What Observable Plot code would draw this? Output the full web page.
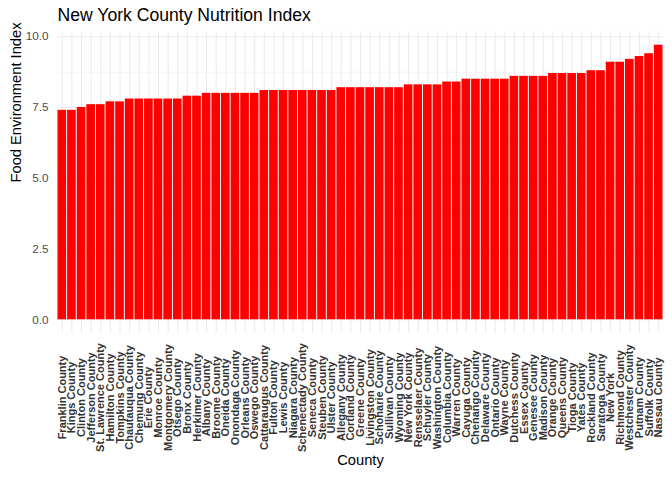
<!DOCTYPE html>
<html>
<head>
<meta charset="utf-8">
<script src="https://cdn.jsdelivr.net/npm/d3@7"></script>
<script src="https://cdn.jsdelivr.net/npm/@observablehq/plot@0.6"></script>
<style>
  html, body { margin: 0; padding: 0; background: #fff; }
  #chart svg { display: block; }
</style>
</head>
<body>
<div id="chart"></div>
<script>
const counties = [
  "Franklin County", "Kings County", "Clinton County", "Jefferson County", "St. Lawrence County",
  "Hamilton County", "Tompkins County", "Chautauqua County", "Chemung County", "Erie County",
  "Monroe County", "Montgomery County", "Otsego County", "Bronx County", "Herkimer County",
  "Albany County", "Broome County", "Oneida County", "Onondaga County", "Orleans County",
  "Oswego County", "Cattaraugus County", "Fulton County", "Lewis County", "Niagara County",
  "Schenectady County", "Seneca County", "Steuben County", "Ulster County", "Allegany County",
  "Cortland County", "Greene County", "Livingston County", "Schoharie County", "Sullivan County",
  "Wyoming County", "New York County", "Rensselaer County", "Schuyler County", "Washington County",
  "Columbia County", "Warren County", "Cayuga County", "Chenango County", "Delaware County",
  "Ontario County", "Wayne County", "Dutchess County", "Essex County", "Genesee County",
  "Madison County", "Orange County", "Queens County", "Tioga County", "Yates County",
  "Rockland County", "Saratoga County", "New York", "Richmond County", "Westchester County",
  "Putnam County", "Suffolk County", "Nassau County"
];
const values = [
  7.4, 7.4, 7.5, 7.6, 7.6,
  7.7, 7.7, 7.8, 7.8, 7.8,
  7.8, 7.8, 7.8, 7.9, 7.9,
  8.0, 8.0, 8.0, 8.0, 8.0,
  8.0, 8.1, 8.1, 8.1, 8.1,
  8.1, 8.1, 8.1, 8.1, 8.2,
  8.2, 8.2, 8.2, 8.2, 8.2,
  8.2, 8.3, 8.3, 8.3, 8.3,
  8.4, 8.4, 8.5, 8.5, 8.5,
  8.5, 8.5, 8.6, 8.6, 8.6,
  8.6, 8.7, 8.7, 8.7, 8.7,
  8.8, 8.8, 9.1, 9.1, 9.2,
  9.3, 9.4, 9.7
];
const majorTicks = [0, 2.5, 5, 7.5, 10];
const minorTicks = [1.25, 3.75, 6.25, 8.75];
const titleText = "New York County Nutrition Index";
const xTitle = "County";
const yTitle = "Food Environment Index";

const data = counties.map((c, i) => ({county: c, value: values[i]}));
const maxV = d3.max(values);
const pad = maxV * 0.05;

const gridColor = "#EBEBEB";

const chart = Plot.plot({
  width: 672,
  height: 480,
  marginTop: 31,
  marginBottom: 147,
  marginLeft: 57,
  marginRight: 9,
  style: {fontFamily: "'Liberation Sans', Arial, sans-serif", fontSize: "11.7px", background: "#fff"},
  x: {domain: counties, paddingInner: 0.1, paddingOuter: 0.05, axis: null},
  y: {domain: [-pad, maxV + pad], axis: null},
  marks: [
    Plot.gridX({stroke: gridColor, strokeOpacity: 1, strokeWidth: 1.07}),
    Plot.ruleY(minorTicks, {stroke: gridColor, strokeWidth: 0.53}),
    Plot.ruleY(majorTicks, {stroke: gridColor, strokeWidth: 1.07}),
    Plot.barY(data, {x: "county", y: "value", fill: "#FF0000"}),
    Plot.axisY(majorTicks, {tickSize: 0, tickPadding: 9, tickFormat: d3.format(".1f"), label: null, fill: "#4D4D4D", fontSize: 11.7}),
    Plot.text(data, {x: "county", text: "county", frameAnchor: "bottom", dy: 64, rotate: -90,
      textAnchor: "middle", lineAnchor: "middle", fill: "#333333", fontWeight: "bold", fontSize: 11}),
    Plot.text([xTitle], {text: d => d, frameAnchor: "bottom", dy: 131.5, fontSize: 14.7, fill: "#000"}),
    Plot.text([yTitle], {text: d => d, frameAnchor: "left", dx: -41.5, rotate: -90, fontSize: 14.7, fill: "#000", lineAnchor: "middle"}),
    Plot.text([titleText], {text: d => d, frameAnchor: "top-left", dy: -10.5, textAnchor: "start", lineAnchor: "bottom", fontSize: 17.6, fill: "#000"})
  ]
});
document.getElementById("chart").appendChild(chart);
</script>
</body>
</html>
